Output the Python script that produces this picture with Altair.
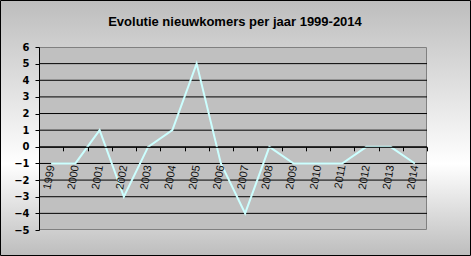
import altair as alt
import pandas as pd

years = ["1999", "2000", "2001", "2002", "2003", "2004", "2005", "2006",
         "2007", "2008", "2009", "2010", "2011", "2012", "2013", "2014"]
values = [-1, -1, 1, -3, 0, 1, 5, -1, -4, 0, -1, -1, -1, 0, 0, -1]
y_ticks = [-5, -4, -3, -2, -1, 0, 1, 2, 3, 4, 5, 6]
grid_vals = [-4, -3, -2, -1, 0, 1, 2, 3, 4, 5]
title = "Evolutie nieuwkomers per jaar 1999-2014"

W, H = 388, 183
PAD = {"left": 39, "top": 47, "right": 44, "bottom": 26}
ymin, ymax = -5, 6

df = pd.DataFrame({"jaar": years, "waarde": values})
one = pd.DataFrame({"a": [0]})

yscale = alt.Scale(domain=[ymin, ymax], nice=False, zero=False)
yaxis = alt.Axis(title=None, values=y_ticks, labelFont="DejaVu Sans", labelFontSize=10,
                 labelFontWeight="bold", labelColor="black", labelPadding=6,
                 tickSize=4, tickColor="black", domainColor="black", zindex=1, grid=False)

gradient = alt.LinearGradient(
    gradient="linear", x1=0, y1=0, x2=0, y2=1,
    stops=[alt.GradientStop(color="#bdbdbd", offset=0),
           alt.GradientStop(color="#ffffff", offset=0.64),
           alt.GradientStop(color="#bdbdbd", offset=1)])

bg = alt.Chart(one).mark_rect(fill=gradient, stroke="black", strokeWidth=1).encode(
    x=alt.value(-PAD["left"] + 0.5), x2=alt.value(W + PAD["right"] - 0.5),
    y=alt.value(-PAD["top"] + 0.5), y2=alt.value(H + PAD["bottom"] - 0.5))

plot_bg = alt.Chart(one).mark_rect(fill="#c0c0c0", stroke="#808080", strokeWidth=1).encode(
    x=alt.value(0.5), x2=alt.value(W - 0.5), y=alt.value(0.5), y2=alt.value(H - 0.5))

grid = alt.Chart(pd.DataFrame({"g": grid_vals})).mark_rule(color="black", strokeWidth=1).encode(
    y=alt.Y("g:Q", scale=yscale, axis=yaxis))

x_offset = -H * (0 - ymin) / (ymax - ymin)

line = alt.Chart(df).mark_line(color="#ccffff", strokeWidth=2).encode(
    x=alt.X("jaar:O", sort=years, bandPosition=0.5,
            scale=alt.Scale(type="band", paddingInner=0, paddingOuter=0),
            axis=alt.Axis(title=None, labelAngle=-80, labelAlign="right", labelBaseline="middle",
                          labelFont="Liberation Sans", labelFontSize=11, labelColor="#111111",
                          labelPadding=14, tickBand="extent", tickSize=4, tickColor="black",
                          domainColor="black", offset=x_offset, zindex=1, grid=False)),
    y=alt.Y("waarde:Q", scale=yscale, axis=yaxis))

chart = alt.layer(bg, plot_bg, grid, line).properties(
    width=W, height=H,
    padding=PAD,
    autosize=alt.AutoSizeParams(type="none"),
    title=alt.TitleParams(title, font="Liberation Sans", fontSize=13, fontWeight="bold",
                          color="black", anchor="middle", frame="group", offset=-29, dx=2),
).configure_view(stroke=None, fill=None).configure(background="white")

chart.save("out.html", embed_options={"renderer": "svg", "actions": False})
